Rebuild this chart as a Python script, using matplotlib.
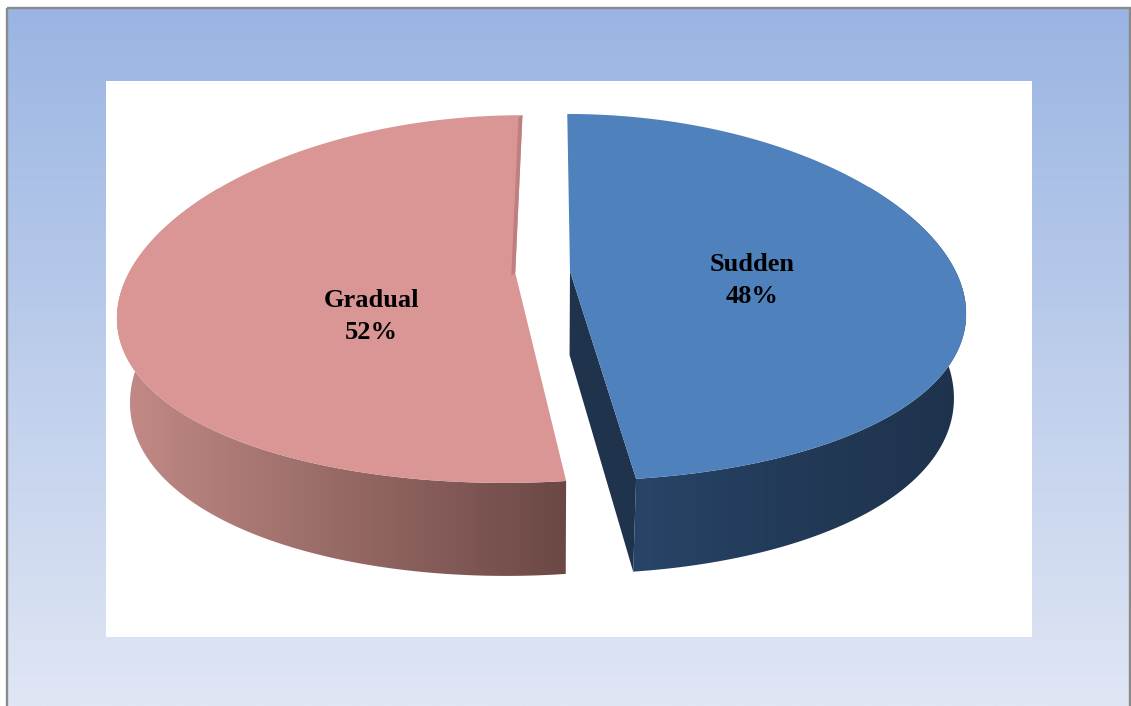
import numpy as np
import matplotlib.pyplot as plt
from matplotlib.patches import Polygon, Rectangle
from matplotlib.colors import to_rgb

# slice data
labels = ['Sudden', 'Gradual']
values = [48, 52]
top_colors = ['#4f81bd', '#d99694']
side_colors = [('#284568', '#1e324c'), ('#c38b87', '#6b4845')]
wall_color = '#1f334d'

W, H = 1131, 706

# view setup (pixel space)
CAM_X, CAM_Y = 555, 272
SCALE = 386
SIN_E = 0.466
COS_E = np.sqrt(1 - SIN_E**2)
DX, DY = 4.0, 6.2
THICK = 0.25
EXPLODE = 0.071
SHIFT = -0.032


def proj(X, Y, Z):
    X, Y, Z = np.asarray(X, float), np.asarray(Y, float), np.asarray(Z, float)
    v = Y * SIN_E + Z * COS_E
    d = Y * COS_E - Z * SIN_E
    sx = CAM_X + SCALE * X * DX / (DX + d)
    sy = CAM_Y - SCALE * v * DY / (DY + d)
    return np.column_stack([sx, sy])


fig = plt.figure(figsize=(W / 100, H / 100), dpi=100)
ax = fig.add_axes([0, 0, 1, 1])
ax.set_xlim(0, W)
ax.set_ylim(H, 0)
ax.axis('off')

# backdrop gradient + frame
top_bg = np.array(to_rgb('#9ab5e3'))
bot_bg = np.array(to_rgb('#e0e6f4'))
t = np.linspace(0, 1, 256)[:, None, None]
grad = top_bg * (1 - t) + bot_bg * t
grad = np.repeat(grad, 2, axis=1)
ax.imshow(grad, extent=[7, 1130, H, 8], aspect='auto', zorder=0)
ax.add_patch(Rectangle((6.5, 7.5), 1123, 720, fill=False, edgecolor='#8a8a8a',
                       linewidth=1.7, zorder=1))
ax.add_patch(Rectangle((106, 81), 926, 556, facecolor='white', edgecolor='none', zorder=1))

fracs = np.array(values) / sum(values)
starts = np.concatenate([[0], np.cumsum(fracs)[:-1]]) * 360
ends = starts + fracs * 360


def gradient_fill(poly_xy, c_left, c_right, power=1.0, z=2):
    patch = Polygon(poly_xy, closed=True, facecolor='none', edgecolor='none', zorder=z)
    ax.add_patch(patch)
    x0, x1 = poly_xy[:, 0].min(), poly_xy[:, 0].max()
    y0, y1 = poly_xy[:, 1].min(), poly_xy[:, 1].max()
    s = np.linspace(0, 1, 256) ** power
    cl, cr = np.array(to_rgb(c_left)), np.array(to_rgb(c_right))
    img = (cl[None, :] * (1 - s[:, None]) + cr[None, :] * s[:, None])[None, :, :]
    img = np.repeat(img, 2, axis=0)
    im = ax.imshow(img, extent=[x0, x1, y1, y0], aspect='auto', zorder=z)
    im.set_clip_path(patch)


for i, (lab, a0, a1) in enumerate(zip(labels, starts, ends)):
    mid = np.radians((a0 + a1) / 2)
    ox = SHIFT + EXPLODE * np.sin(mid)
    oy = EXPLODE * np.cos(mid)
    th = np.radians(np.linspace(a0, a1, 200))
    rx, ry = ox + np.sin(th), oy + np.cos(th)
    top_arc = proj(rx, ry, np.zeros_like(th))
    bot_arc = proj(rx, ry, np.full_like(th, -THICK))

    # outer side: only the front-facing part of the rim
    r0, r1 = max(a0, 60), min(a1, 300)
    th_r = np.radians(np.linspace(r0, r1, 200))
    sx_, sy_ = ox + np.sin(th_r), oy + np.cos(th_r)
    rim = np.vstack([proj(sx_, sy_, np.zeros_like(th_r)),
                     proj(sx_, sy_, np.full_like(th_r, -THICK))[::-1]])
    gradient_fill(rim, *side_colors[i], power=0.8 if i == 0 else 1.0, z=2)

    c_top = proj([ox], [oy], [0])[0]
    c_bot = proj([ox], [oy], [-THICK])[0]

    # cut face on the far edge of the first slice
    if i == 0:
        e_top, e_bot = top_arc[-1], bot_arc[-1]
        ax.add_patch(Polygon([c_top, e_top, e_bot, c_bot], closed=True,
                             facecolor=wall_color, edgecolor='none', zorder=3))

    face = np.vstack([c_top, top_arc])
    ax.add_patch(Polygon(face, closed=True, facecolor=top_colors[i],
                         edgecolor='none', zorder=4))

    # thin shaded cut face along the back edge of the second slice
    if i == 1:
        b_top = top_arc[-1]
        sliver = [b_top, c_top, c_top + [-4, 3], b_top + [-4, 2]]
        ax.add_patch(Polygon(sliver, closed=True, facecolor='#bf7f7e',
                             edgecolor='none', zorder=5))

    lab_ang = np.radians(96 if i == 0 else 236)
    lab_r = 0.47 if i == 0 else 0.42
    lp = proj([ox + lab_r * np.sin(lab_ang)], [oy + lab_r * np.cos(lab_ang)], [0])[0]
    ax.text(lp[0], lp[1], f'{lab}\n{values[i]}%', ha='center', va='center',
            fontsize=19, fontweight='bold', family='Liberation Serif',
            linespacing=1.5, color='black', zorder=6)

fig.savefig('out.png', dpi=100)
